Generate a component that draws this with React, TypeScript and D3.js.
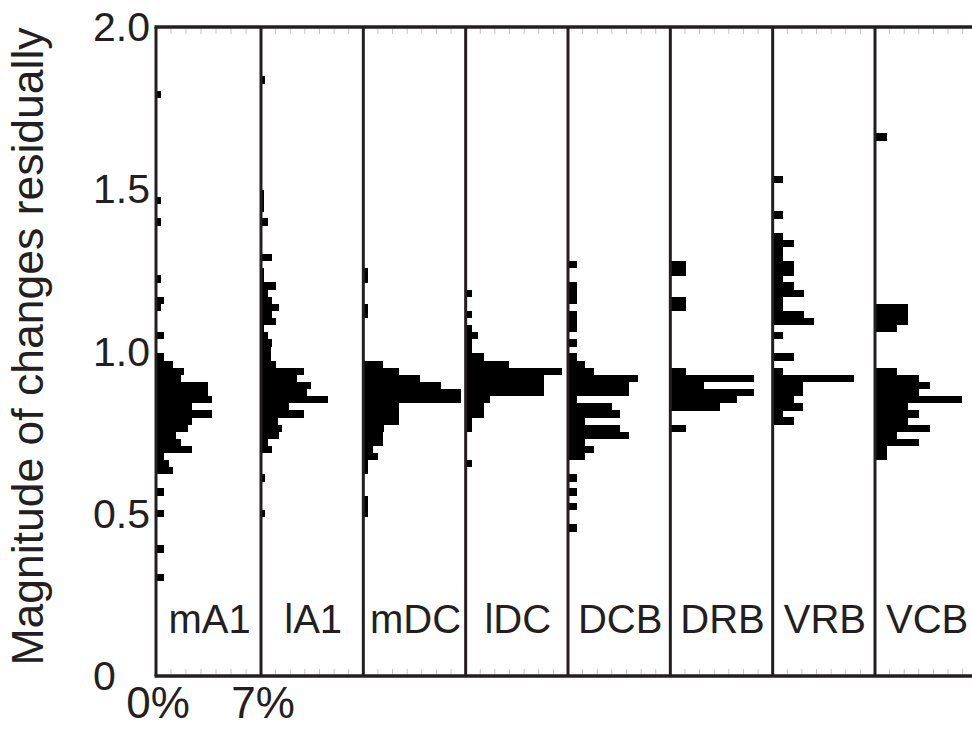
import React from 'react';
import * as d3 from 'd3';

// ---------- data ----------
const panelNames = ['mA1', 'lA1', 'mDC', 'lDC', 'DCB', 'DRB', 'VRB', 'VCB'];
const yTickValues = [2.0, 1.5, 1.0, 0.5, 0];
const yTickLabels = ['2.0', '1.5', '1.0', '0.5', '0'];
const xTickLabels = ['0%', '7%'];
const yTitle = 'Magnitude of changes residually';
const BIN = 0.0219; // histogram bin height (magnitude units)

// [bin centre (magnitude), share of samples (%)]
const mA1: [number, number][] = [
  [1.793, 0.3], [1.465, 0.3], [1.399, 0.3], [1.224, 0.3], [1.158, 0.55], [1.136, 0.3],
  [1.049, 0.55], [0.983, 0.55], [0.961, 1.1], [0.939, 1.86], [0.917, 1.64], [0.895, 3.45],
  [0.874, 3.45], [0.852, 3.73], [0.830, 2.43], [0.808, 3.73], [0.786, 2.43], [0.764, 2.16],
  [0.742, 1.36], [0.720, 1.64], [0.698, 2.43], [0.676, 0.55], [0.655, 0.84], [0.633, 1.1],
  [0.567, 0.55], [0.501, 0.55], [0.392, 0.55], [0.304, 0.55],
];
const lA1: [number, number][] = [
  [1.837, 0.27], [1.487, 0.2], [1.465, 0.2], [1.443, 0.2], [1.399, 0.5], [1.290, 0.77],
  [1.246, 0.2], [1.224, 0.2], [1.202, 1.0], [1.180, 0.5], [1.158, 0.77], [1.136, 1.23],
  [1.114, 0.77], [1.093, 1.0], [1.071, 0.2], [1.049, 0.5], [1.027, 0.77], [1.005, 0.68],
  [0.983, 0.68], [0.961, 1.0], [0.939, 2.95], [0.917, 2.43], [0.895, 3.4], [0.874, 3.16],
  [0.852, 4.59], [0.830, 1.9], [0.808, 2.95], [0.786, 1.18], [0.764, 1.45], [0.742, 1.23],
  [0.720, 0.5], [0.698, 0.77], [0.611, 0.27], [0.501, 0.27],
];
const mDC: [number, number][] = [
  [1.246, 0.3], [1.224, 0.3], [1.136, 0.3], [1.114, 0.3], [0.961, 1.32], [0.939, 2.45],
  [0.917, 3.86], [0.895, 5.3], [0.874, 6.7], [0.852, 6.7], [0.830, 2.45], [0.808, 2.45],
  [0.786, 2.45], [0.764, 1.43], [0.742, 1.32], [0.720, 1.32], [0.698, 0.64], [0.676, 1.02],
  [0.655, 0.3], [0.633, 0.3], [0.545, 0.3], [0.523, 0.3], [0.501, 0.3],
];
const lDC: [number, number][] = [
  [1.180, 0.4], [1.114, 0.4], [1.071, 0.4], [1.049, 0.84], [1.027, 0.4], [1.005, 0.4],
  [0.983, 1.23], [0.961, 2.95], [0.939, 6.6], [0.917, 5.39], [0.895, 5.39], [0.874, 5.39],
  [0.852, 1.68], [0.830, 1.23], [0.808, 1.23], [0.786, 0.45], [0.764, 0.45], [0.655, 0.45],
];
const DCB: [number, number][] = [
  [1.268, 0.6], [1.202, 0.6], [1.180, 0.6], [1.158, 0.6], [1.114, 0.6], [1.093, 0.6],
  [1.071, 0.6], [1.027, 0.6], [0.983, 0.6], [0.961, 1.16], [0.939, 1.8], [0.917, 4.8],
  [0.895, 4.18], [0.874, 4.18], [0.852, 0.6], [0.830, 2.98], [0.808, 3.59], [0.786, 1.16],
  [0.764, 3.59], [0.742, 4.18], [0.720, 1.16], [0.698, 1.8], [0.676, 1.16], [0.611, 0.6],
  [0.567, 0.6], [0.523, 0.6], [0.457, 0.6],
];
const DRB: [number, number][] = [
  [1.268, 1.07], [1.246, 1.07], [1.158, 1.07], [1.136, 1.07], [0.939, 1.07], [0.917, 5.75],
  [0.895, 2.27], [0.874, 5.75], [0.852, 4.55], [0.830, 3.41], [0.764, 1.07],
];
const VRB: [number, number][] = [
  [1.531, 0.73], [1.421, 0.73], [1.355, 0.73], [1.333, 1.45], [1.312, 0.73], [1.290, 0.73],
  [1.268, 1.45], [1.246, 1.45], [1.224, 0.73], [1.202, 1.45], [1.180, 2.14], [1.158, 0.73],
  [1.136, 0.73], [1.114, 2.14], [1.093, 2.82], [1.049, 0.73], [0.983, 1.45], [0.939, 0.73],
  [0.917, 5.54], [0.895, 2.09], [0.874, 2.09], [0.852, 1.45], [0.830, 2.09], [0.808, 0.73],
  [0.786, 1.45],
];
const VCB: [number, number][] = [
  [1.662, 0.8], [1.136, 2.27], [1.114, 2.27], [1.093, 2.27], [1.071, 1.52], [0.939, 1.52],
  [0.917, 3.0], [0.895, 3.75], [0.874, 3.0], [0.852, 5.98], [0.830, 2.27], [0.808, 3.0],
  [0.786, 2.27], [0.764, 3.75], [0.742, 1.52], [0.720, 3.0], [0.698, 0.8], [0.676, 0.8],
];
const series = [mA1, lA1, mDC, lDC, DCB, DRB, VRB, VCB];
const xMaxPct = 7;
const xMinorTicks = [1, 2, 3, 4, 5, 6];

export default function App() {
  const W = 972;
  const H = 729;
  const top = 27;
  const bottom = 676;
  const ink = '#231f20';
  const font = "'Liberation Sans', Arial, Helvetica, sans-serif";

  const y = d3.scaleLinear().domain([0, 2]).range([bottom, top]);
  const panelX = d3.scaleLinear().domain([0, 1, 7]).range([156, 261, 875]);

  return (
    <svg width={W} height={H} style={{ position: 'absolute', left: 0, top: 0, background: '#fff' }}>
      <rect x={0} y={0} width={W} height={H} fill="#fff" />
      {series.map((data, i) => {
        const left = panelX(i);
        const right = panelX(i + 1);
        const xs = d3.scaleLinear().domain([0, xMaxPct]).range([left, right]);
        return (
          <g key={panelNames[i]}>
            <g shapeRendering="crispEdges">
              {data.map(([c, p], k) => {
                const y0 = y(c + BIN / 2);
                const y1 = y(c - BIN / 2);
                return (
                  <rect key={k} x={left} y={y0} width={xs(p) - left} height={y1 - y0 + 0.3} fill="#000" />
                );
              })}
            </g>
            {xMinorTicks.map((t) => (
              <g key={t}>
                <line x1={xs(t)} x2={xs(t)} y1={top + 1} y2={top + 7} stroke="#c4c4c4" strokeWidth={1} />
                <line x1={xs(t)} x2={xs(t)} y1={bottom - 7} y2={bottom - 1} stroke="#c4c4c4" strokeWidth={1} />
              </g>
            ))}
            <line x1={left} x2={left} y1={top} y2={bottom} stroke={ink} strokeWidth={3} />
            <text x={(left + right) / 2 + 1} y={bottom - 43} fontFamily={font} fontSize={40} textAnchor="middle" fill={ink}>
              {panelNames[i]}
            </text>
          </g>
        );
      })}
      <line x1={panelX(0) - 1.5} x2={W} y1={top} y2={top} stroke={ink} strokeWidth={3.5} />
      <line x1={panelX(0) - 1.5} x2={W} y1={bottom} y2={bottom} stroke={ink} strokeWidth={3.5} />
      {yTickValues.map((v, i) => (
        <text key={v} x={93} y={y(v) + 14} fontFamily={font} fontSize={41} fill={ink}>
          {yTickLabels[i]}
        </text>
      ))}
      {xTickLabels.map((t, i) => (
        <text key={t} x={panelX(i) + 2} y={718} fontFamily={font} fontSize={44} textAnchor="middle" fill={ink}>
          {t}
        </text>
      ))}
      <text
        transform={`translate(43, ${(top + bottom) / 2 - 5}) rotate(-90)`}
        fontFamily={font}
        fontSize={44.5}
        textAnchor="middle"
        fill={ink}
      >
        {yTitle}
      </text>
    </svg>
  );
}
